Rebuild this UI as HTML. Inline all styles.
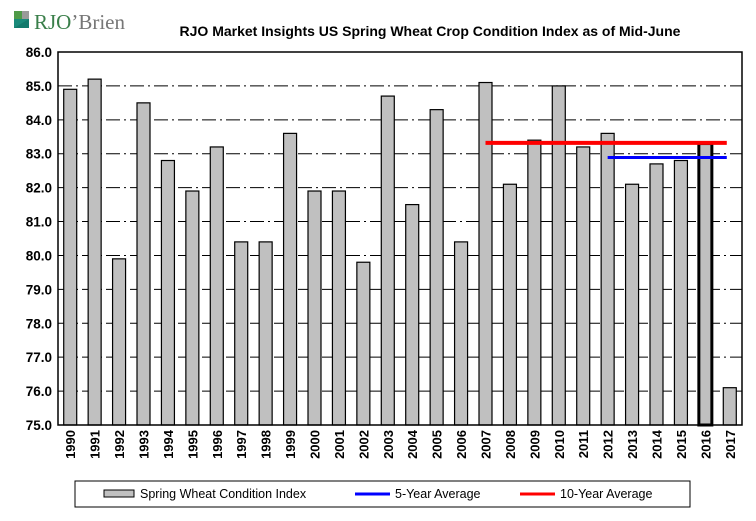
<!DOCTYPE html>
<html><head><meta charset="utf-8"><style>
body{margin:0;background:#fff;width:756px;height:516px;overflow:hidden;font-family:"Liberation Sans",Arial,sans-serif}
</style></head><body>
<svg id="chart" width="756" height="516" xmlns="http://www.w3.org/2000/svg" font-family="Liberation Sans, Arial, sans-serif">
<g>
<rect x="14" y="11" width="8" height="8" fill="#4f9a48"/><rect x="22" y="11" width="7" height="8" fill="#9a9a9a"/>
<rect x="14" y="19" width="15" height="9" fill="#1a8a7a"/><polygon points="14,28 29,19 29,28" fill="#137a6c"/>
<text x="34" y="29" font-family="Liberation Serif, serif" font-size="21"><tspan fill="#3a7f4a">RJO</tspan><tspan fill="#777">’Brien</tspan></text>
</g>
<text x="430" y="36" text-anchor="middle" font-size="14" font-weight="bold">RJO Market Insights US Spring Wheat Crop Condition Index as of Mid-June</text>
<g id="grid"></g><g id="bars"></g><g id="yaxis"></g><g id="xaxis"></g><g id="avg"></g>
<rect x="58" y="52" width="684" height="373" fill="none" stroke="#000" stroke-width="1.5"/>
<g>
<rect x="75" y="481" width="615" height="26" fill="#fff" stroke="#000"/>
<g><rect x="104" y="490" width="30" height="7" fill="#c0c0c0" stroke="#000"/><text x="140" y="498" font-size="12.5">Spring Wheat Condition Index</text></g>
<g><line x1="355" y1="494" x2="390" y2="494" stroke="#0000ff" stroke-width="3"/><text x="395" y="498" font-size="12.5">5-Year Average</text></g>
<g><line x1="520" y1="494" x2="555" y2="494" stroke="#ff0000" stroke-width="3"/><text x="560" y="498" font-size="12.5">10-Year Average</text></g>
</g>
</svg>
<script>
const years=[1990,1991,1992,1993,1994,1995,1996,1997,1998,1999,2000,2001,2002,2003,2004,2005,2006,2007,2008,2009,2010,2011,2012,2013,2014,2015,2016,2017];
const values=[84.9,85.2,79.9,84.5,82.8,81.9,83.2,80.4,80.4,83.6,81.9,81.9,79.8,84.7,81.5,84.3,80.4,85.1,82.1,83.4,85.0,83.2,83.6,82.1,82.7,82.8,83.3,76.1];
const yTicks=[75,76,77,78,79,80,81,82,83,84,85,86];
const avg5=82.89, avg10=83.32;
const NS="http://www.w3.org/2000/svg";
const L=58,R=742,T=52,B=425,ymin=75,ymax=86;
const y=v=>B-(v-ymin)/(ymax-ymin)*(B-T);
const step=(R-L)/years.length;
const xc=i=>L+step*(i+0.5);
function mk(t,a,p){const e=document.createElementNS(NS,t);for(const k in a)e.setAttribute(k,a[k]);p.appendChild(e);return e;}
const G=document.getElementById('grid'),Bg=document.getElementById('bars'),Y=document.getElementById('yaxis'),X=document.getElementById('xaxis'),A=document.getElementById('avg');
yTicks.forEach(v=>{
 if(v>ymin&&v<ymax){const l=mk('line',{x1:L,x2:R,y1:y(v),y2:y(v),stroke:'#000','stroke-dasharray':'14,4,2,4'},G);
 
 }
 const t=mk('text',{x:L-6,y:y(v)+5,'text-anchor':'end','font-size':'13.5','font-weight':'bold'},Y);t.textContent=v.toFixed(1);
 
 
});
values.forEach((v,i)=>{
 const w=13;const r=mk('rect',{x:xc(i)-w/2,y:y(v),width:w,height:B-y(v),fill:'#c0c0c0',stroke:'#000','stroke-width':years[i]===2016?3:1.2},Bg);
 
 
 const t=mk('text',{x:0,y:0,'text-anchor':'end','font-size':'13','font-weight':'bold',transform:`translate(${xc(i)+5},${B+5}) rotate(-90)`},X);t.textContent=years[i];
 
 
});
const i10=years.indexOf(2007),i5=years.indexOf(2012),iE=years.indexOf(2017);
const r10=mk('line',{x1:xc(i10),x2:xc(iE)-3,y1:y(avg10),y2:y(avg10),stroke:'#ff0000','stroke-width':4},A);


const r5=mk('line',{x1:xc(i5),x2:xc(iE)-3,y1:y(avg5),y2:y(avg5),stroke:'#0000ff','stroke-width':3},A);


</script>
</body></html>
